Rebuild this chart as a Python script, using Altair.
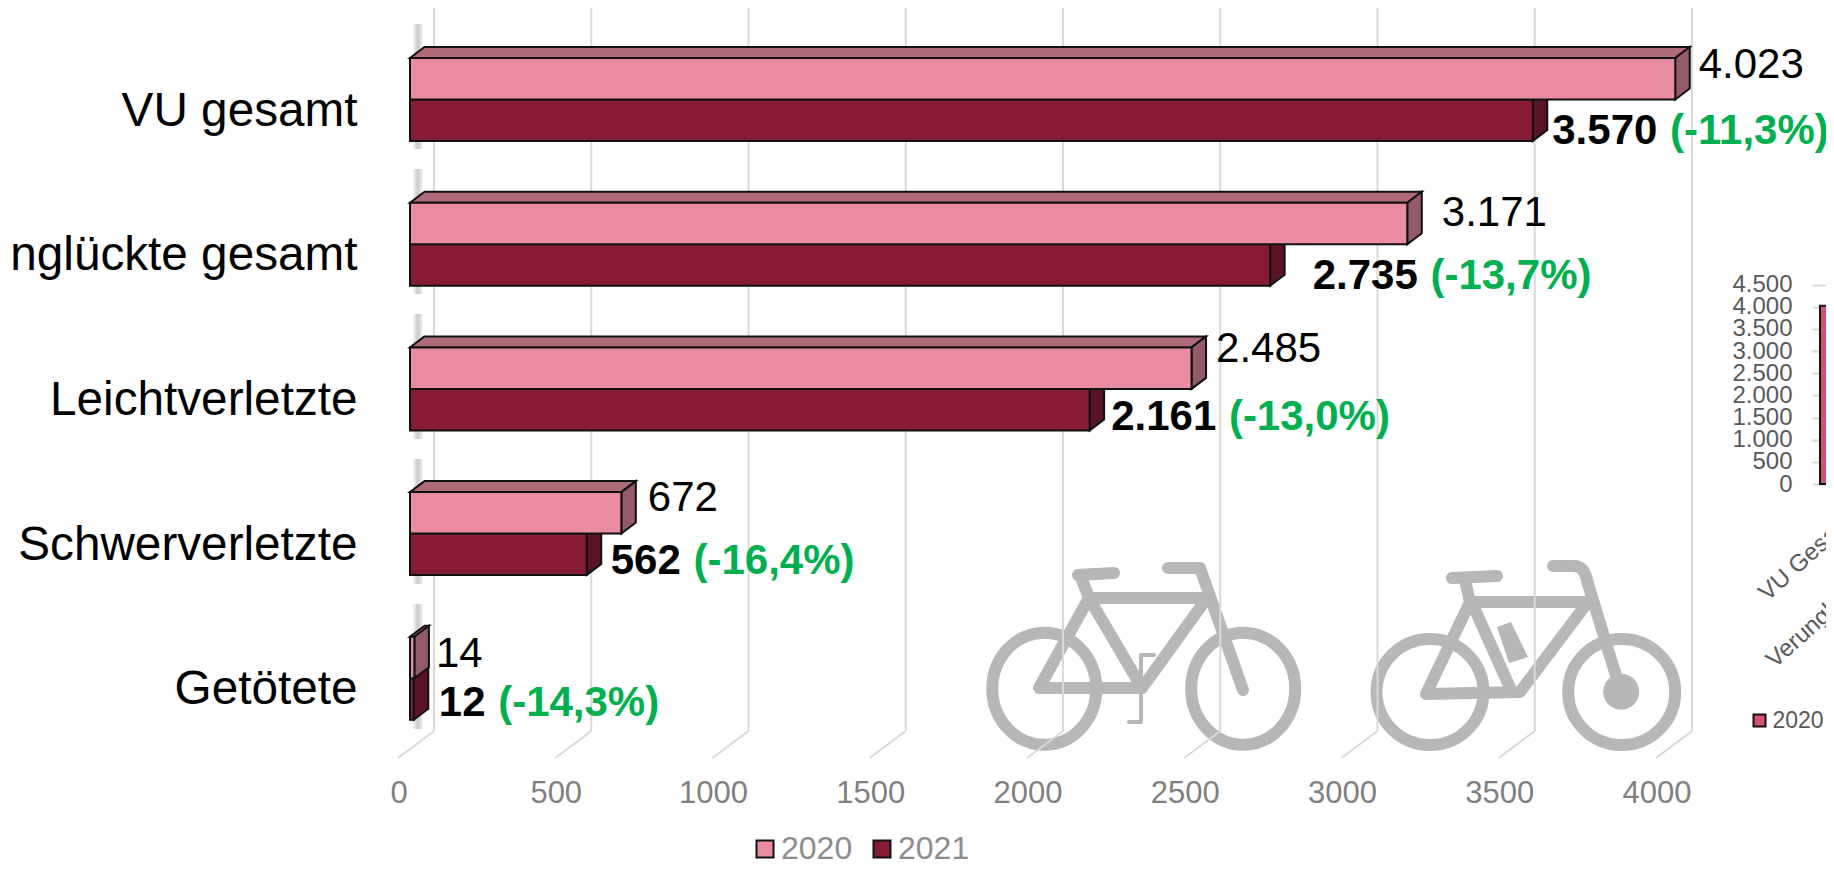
import altair as alt
import pandas as pd

# ---------- data ----------
categories = ["VU gesamt", "Verunglückte gesamt", "Leichtverletzte", "Schwerverletzte", "Getötete"]
values_2020 = [4023, 3171, 2485, 672, 14]
values_2021 = [3570, 2735, 2161, 562, 12]
labels_2020 = ["4.023", "3.171", "2.485", "672", "14"]
labels_2021 = ["3.570", "2.735", "2.161", "562", "12"]
changes = ["(-11,3%)", "(-13,7%)", "(-13,0%)", "(-16,4%)", "(-14,3%)"]
x_ticks = [0, 500, 1000, 1500, 2000, 2500, 3000, 3500, 4000]
mini_ticks = [0, 500, 1000, 1500, 2000, 2500, 3000, 3500, 4000, 4500]
mini_categories = ["VU Gesamt", "Verunglückte gesamt"]

# ---------- layout ----------
VIEW_L, VIEW_T, W, H = 370, 8, 1456, 750
PAD_BOTTOM = 102
PX = 0.3145          # px per unit along x
ROW = 144.7          # px per category row
BAR = 41.5 / ROW     # bar thickness in row units
DX = 14.5 / PX       # depth of the bars in x units
DY = 11 / ROW        # depth of the bars in row units
WALL = 24 / PX       # back wall shift
FLOOR = -12 / PX     # front end of the floor lines

def r_of(page_y):
    return (page_y - 99.5) / ROW

XS = alt.Scale(domain=[(VIEW_L - 410) / PX, (VIEW_L + W - 410) / PX], range=[0, W], nice=False, zero=False)
YS = alt.Scale(domain=[r_of(VIEW_T), r_of(VIEW_T + H)], range=[0, H], nice=False, zero=False)

PINK, DARK = "#E98C9F", "#861C33"
TOP_PINK, SIDE_PINK = "#AF6B78", "#935B68"
SIDE_DARK = "#5A1324"
EDGE = "#111111"
GRID = "#D9D9D9"
FONT = "Liberation Sans"

def X(f, axis=None):
    return alt.X(f, scale=XS, axis=axis, title=None)

def Y(f, axis=None):
    return alt.Y(f, scale=YS, axis=axis, title=None)

# ---------- tables ----------
front, tops, sides, text_a, text_b, text_c = [], [], [], [], [], []
nudge_x_2020 = [9, 20, 10, 12, 7]
nudge_y_2020 = [-14, -10, -19, -15, -4]
nudge_x_2021 = [5, 28, 7, 9.5, 10.5]
nudge_y_2021 = [10.5, 11, 7, 7, 3.5]

def em(s):
    return sum(0.278 if c == "." else 0.556 for c in s)

for i, c in enumerate(categories):
    for s, v, t0, t1 in (("2021", values_2021[i], i, i + BAR), ("2020", values_2020[i], i - BAR, i)):
        front.append(dict(series=s, x=0, x2=v, y=t0, y2=t1))
        sides.append(dict(series=s, id=f"{s}{i}a", x=v, y=t0, y2=t1))
        sides.append(dict(series=s, id=f"{s}{i}a", x=v + DX, y=t0 - DY, y2=t1 - DY))
    tops.append(dict(id=f"{i}a", y=i - BAR, x=0, x2=values_2020[i]))
    tops.append(dict(id=f"{i}a", y=i - BAR - DY, x=DX, x2=values_2020[i] + DX))
    text_a.append(dict(t=labels_2020[i], x=values_2020[i] + DX + nudge_x_2020[i] / PX,
                       y=i - BAR / 2 + nudge_y_2020[i] / ROW))
    xb = values_2021[i] + DX + nudge_x_2021[i] / PX
    yb = i + BAR / 2 + nudge_y_2021[i] / ROW
    text_b.append(dict(t=labels_2021[i], x=xb, y=yb))
    text_c.append(dict(t=changes[i], x=xb + ((em(labels_2021[i]) + 0.278) * 42 + 1) / PX, y=yb))

front, tops, sides = map(pd.DataFrame, (front, tops, sides))
text_a, text_b, text_c = map(pd.DataFrame, (text_a, text_b, text_c))

wall = pd.DataFrame({"x": [v + WALL for v in x_ticks], "y": [r_of(7)] * 9, "y2": [r_of(731)] * 9})
floor = pd.DataFrame(
    [dict(tick=v, x=v + WALL, y=r_of(731)) for v in x_ticks] + [dict(tick=v, x=v + FLOOR, y=r_of(758)) for v in x_ticks]
)
stripe = pd.DataFrame({"x": [25.4], "y": [r_of(24)], "y2": [r_of(742)]})

# ---------- bicycle icons (decoration, drawn as custom point shapes) ----------
def ell(cx, cy, rx, ry, ox, oy):
    a, b, c = (cx - rx - ox) / 100, (cy - oy) / 100, (cx + rx - ox) / 100
    rx, ry = rx / 100, ry / 100
    return f"M{a:.3f} {b:.3f}A{rx:.3f} {ry:.3f} 0 1 0 {c:.3f} {b:.3f}A{rx:.3f} {ry:.3f} 0 1 0 {a:.3f} {b:.3f}"

def poly(pts, ox, oy, close=False):
    s = "M" + "L".join(f"{(x - ox) / 100:.3f} {(y - oy) / 100:.3f}" for x, y in pts)
    return s + ("Z" if close else "")

def icon(path, ox, oy, width=0, filled=False):
    kw = dict(filled=True, fill="#B7B7B7") if filled else dict(
        filled=False, stroke="#B7B7B7", strokeWidth=width, strokeCap="round", strokeJoin="round")
    return alt.Chart(pd.DataFrame({"a": [0]})).mark_point(shape=path, size=40000, opacity=1, **kw).encode(
        x=alt.value(ox - VIEW_L), y=alt.value(oy - VIEW_T))

ox1, oy1, ox2, oy2 = 1143, 660, 1526, 660
bike1_thick = " ".join([
    ell(1044.3, 688.7, 52, 56, ox1, oy1),
    ell(1243.2, 688.7, 52, 56, ox1, oy1),
    poly([(1089, 598), (1207, 598), (1142, 688), (1039, 688), (1089, 598), (1142, 688)], ox1, oy1),
    poly([(1089, 598), (1081, 577)], ox1, oy1),
    poly([(1078, 575), (1114, 573)], ox1, oy1),
    poly([(1168, 568), (1200, 568), (1243, 690)], ox1, oy1),
])
bike1_thin = " ".join([
    poly([(1154, 655), (1141, 655), (1141, 722), (1129, 722)], ox1, oy1),
])
bike2_thick = " ".join([
    ell(1430, 692, 53.5, 53, ox2, oy2),
    ell(1621.7, 692, 53.5, 53, ox2, oy2),
    poly([(1470, 602), (1588, 602), (1520, 692), (1426, 694), (1470, 602)], ox2, oy2),
    poly([(1472, 603), (1511, 690)], ox2, oy2),
    poly([(1470, 602), (1465, 580)], ox2, oy2),
    poly([(1452, 578), (1497, 576)], ox2, oy2),
    f"M{(1553 - ox2) / 100:.3f} {(566 - oy2) / 100:.3f}L{(1574 - ox2) / 100:.3f} {(566 - oy2) / 100:.3f}"
    f"Q{(1585 - ox2) / 100:.3f} {(566 - oy2) / 100:.3f} {(1588 - ox2) / 100:.3f} {(584 - oy2) / 100:.3f}"
    f"L{(1621 - ox2) / 100:.3f} {(692 - oy2) / 100:.3f}",
])
hub = ell(1621.2, 691.7, 18, 18, ox2, oy2)
battery = poly([(1497, 627), (1511, 622), (1528, 657), (1509, 663)], ox2, oy2, close=True)

# ---------- main 3D bar chart ----------
x_axis = alt.Axis(values=x_ticks, domain=False, ticks=False, grid=False, labelFontSize=31, labelColor="#808080",
                  labelFont=FONT, labelPadding=20.5, labelOffset=-11.5, labelOverlap=False, format="d", labelFlush=False)
y_expr = "[" + ",".join(f"'{c}'" for c in categories) + "][datum.value]"
y_axis = alt.Axis(values=[0, 1, 2, 3, 4], domain=False, ticks=False, grid=False, labelFontSize=47.7, labelColor="#000000",
                  labelFont=FONT, labelPadding=13, labelOffset=11.5, labelLimit=1000, labelExpr=y_expr,
                  labelOverlap=False, labelBound=False, labelFlush=False)

l_bike = [
    icon(bike1_thick, ox1, oy1, 12),
    icon(bike1_thin, ox1, oy1, 4),
    icon(bike2_thick, ox2, oy2, 12),
    icon(hub, ox2, oy2, filled=True),
    icon(battery, ox2, oy2, filled=True),
]
l_wall = alt.Chart(wall).mark_rule(color=GRID, strokeWidth=2).encode(x=X("x:Q", x_axis), y=Y("y:Q", y_axis), y2="y2:Q")
l_floor = alt.Chart(floor).mark_line(color=GRID, strokeWidth=2).encode(x=X("x:Q"), y=Y("y:Q"), detail="tick:N")
l_stripe = [
    alt.Chart(stripe).mark_rule(color="#777777", strokeWidth=w, opacity=0.08, strokeDash=[125, 20]).encode(
        x=X("x:Q"), y=Y("y:Q"), y2="y2:Q")
    for w in (10, 8, 6, 4, 2)
]

def side_layer(s, col):
    return alt.Chart(sides[sides.series == s]).mark_area(orient="vertical", color=col, stroke=EDGE, strokeWidth=2, opacity=1).encode(
        x=X("x:Q"), y=Y("y:Q"), y2="y2:Q", detail="id:N")

l_top = alt.Chart(tops).mark_area(orient="horizontal", color=TOP_PINK, stroke=EDGE, strokeWidth=2, opacity=1).encode(
    x=X("x:Q"), x2="x2:Q", y=Y("y:Q"), detail="id:N")
l_front = alt.Chart(front).mark_rect(stroke=EDGE, strokeWidth=2).encode(
    x=X("x:Q"), x2="x2:Q", y=Y("y:Q"), y2="y2:Q",
    color=alt.Color("series:N", scale=alt.Scale(domain=["2020", "2021"], range=[PINK, DARK]),
                    legend=alt.Legend(title=None, orient="none", legendX=379, legendY=825, direction="horizontal",
                                      symbolType="square", symbolSize=289, symbolStrokeColor="#111111",
                                      symbolStrokeWidth=2, symbolOpacity=1, labelFontSize=32, labelColor="#8C8C8C",
                                      labelFont=FONT, labelOffset=0, columnPadding=13, padding=0)),
    order=alt.Order("series:N", sort="descending"))

def text_layer(df, color, bold):
    return alt.Chart(df).mark_text(align="left", baseline="middle", font=FONT, fontSize=42, color=color,
                                   fontWeight="bold" if bold else "normal").encode(
        x=X("x:Q"), y=Y("y:Q"), text="t:N")

# ---------- neighbouring small chart, cut off at the right edge ----------
mini_df = pd.DataFrame({"cat": ["VU Gesamt"], "v": [4023], "series": ["2020"]})
mini_y = alt.Scale(domain=[0, 4500], range=[484 - VIEW_T, 284.7 - VIEW_T], nice=False)
mini_x = alt.Scale(domain=mini_categories, range=[1814 - VIEW_L, 1978 - VIEW_L])
mini = alt.Chart(mini_df).mark_bar(size=70, stroke=EDGE, strokeWidth=2).encode(
    x=alt.X("cat:N", scale=mini_x, sort=None, title=None,
            axis=alt.Axis(orient="bottom", offset=484 - VIEW_T - H, domain=False, ticks=False, labelAngle=318,
                          labelAlign="right", labelBaseline="middle", labelFontSize=24, labelColor="#595959",
                          labelFont=FONT, labelPadding=29, labelLimit=1000, labelOverlap=False, labelBound=False,
                          labelFlush=False)),
    y=alt.Y("v:Q", scale=mini_y, title=None,
            axis=alt.Axis(orient="left", offset=-W, values=mini_ticks, domain=False, grid=False, tickSize=14,
                          tickColor=GRID, tickWidth=2, labelFontSize=24, labelColor="#595959", labelFont=FONT,
                          labelPadding=20, labelOverlap=False, labelBound=False, labelFlush=False,
                          labelExpr="replace(format(datum.value, ','), ',', '.')")),
    color=alt.Color("series:N", scale=alt.Scale(domain=["2020"], range=["#D6506F"]),
                    legend=alt.Legend(title=None, orient="none", legendX=1378, legendY=701, symbolType="square",
                                      symbolSize=144, symbolStrokeColor="#111111", symbolStrokeWidth=2, symbolOpacity=1,
                                      labelFontSize=23, labelColor="#595959", labelFont=FONT, labelOffset=1.5, padding=0)),
)

chart = alt.layer(
    *l_bike, l_wall, l_floor, *l_stripe,
    side_layer("2021", SIDE_DARK), l_top, side_layer("2020", SIDE_PINK), l_front,
    text_layer(text_a, "#000000", False), text_layer(text_b, "#000000", True), text_layer(text_c, "#00B050", True),
    mini,
).resolve_scale(x="independent", y="independent", color="independent").properties(
    width=W, height=H,
    autosize=alt.AutoSizeParams(type="none"),
    padding={"left": VIEW_L - 8, "top": VIEW_T - 8, "right": 0, "bottom": PAD_BOTTOM},
).configure_view(stroke=None)

chart.save("out.html", embed_options={"renderer": "svg", "actions": False})
